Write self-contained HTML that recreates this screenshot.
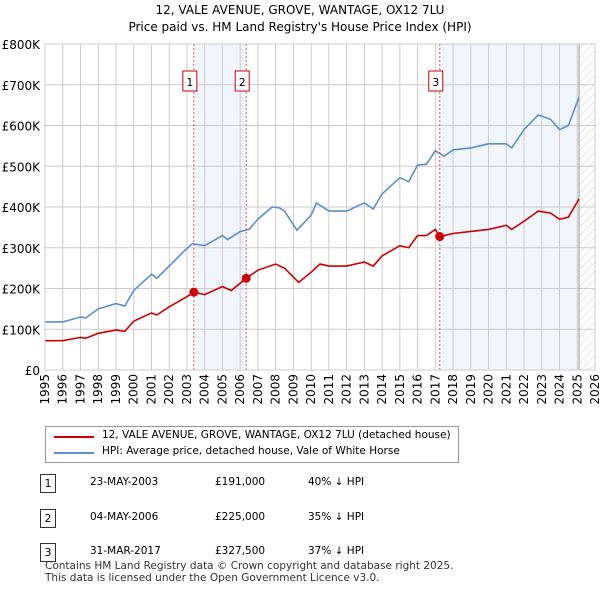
<!DOCTYPE html>
<html><head><meta charset="utf-8"><style>
body{margin:0;background:#fff;font-family:"DejaVu Sans","Liberation Sans",sans-serif;}
.t{position:absolute;font-size:12px;color:#000}
svg text{font-family:"DejaVu Sans","Liberation Sans",sans-serif;}
</style></head><body>
<div style="position:relative;width:600px;height:590px;overflow:hidden">
<div class="t" style="left:0;width:600px;top:2px;text-align:center;font-size:12px;line-height:17px">12, VALE AVENUE, GROVE, WANTAGE, OX12 7LU<br>Price paid vs. HM Land Registry's House Price Index (HPI)</div>
<svg id="chart" width="600" height="420" style="position:absolute;left:0;top:0">
<defs><pattern id="hatch" width="6" height="6" patternUnits="userSpaceOnUse" patternTransform="rotate(45)"><line x1="0" y1="0" x2="0" y2="6" stroke="#ccc" stroke-width="1"/></pattern></defs>
<g id="g"></g>
</svg>
<div style="position:absolute;left:45px;top:426px;width:412px;height:35px;border:1px solid #999">
<div style="position:absolute;left:8px;top:9px;width:40px;height:2px;background:#cc0000"></div>
<div class="t" style="left:56px;top:2px;font-size:10.5px">12, VALE AVENUE, GROVE, WANTAGE, OX12 7LU (detached house)</div>
<div style="position:absolute;left:8px;top:25px;width:40px;height:2px;background:#5b8fd0"></div>
<div class="t" style="left:56px;top:18px;font-size:10.5px">HPI: Average price, detached house, Vale of White Horse</div>
</div>
<div id="tbl"></div>
<div class="t" style="left:45px;top:560px;font-size:10.5px;line-height:12px;color:#333">Contains HM Land Registry data © Crown copyright and database right 2025.<br>This data is licensed under the Open Government Licence v3.0.</div>
</div>
<script>
const hpiYears=[1995,1996,1997,1997.3,1998,1999,1999.5,2000,2001,2001.3,2002,2002.8,2003.3,2004,2005,2005.3,2006,2006.5,2007,2007.8,2008.2,2008.5,2009.2,2010,2010.3,2011,2012,2013,2013.5,2014,2015,2015.5,2016,2016.5,2017,2017.5,2018,2019,2020,2021,2021.3,2022,2022.8,2023.5,2024,2024.5,2025.1];
const hpiValues=[118,118,130,128,150,163,157,195,235,225,255,290,310,305,330,320,340,345,370,400,398,390,343,380,410,390,390,410,395,432,472,462,503,505,538,525,540,545,555,555,545,590,626,615,590,600,670];
const ppYears=[1995,1996,1997,1997.3,1998,1999,1999.5,2000,2001,2001.3,2002,2003,2003.39,2004,2005,2005.5,2006.34,2007,2008,2008.5,2009.3,2010,2010.5,2011,2012,2013,2013.5,2014,2015,2015.5,2016,2016.5,2017,2017.25,2018,2019,2020,2021,2021.3,2022,2022.8,2023.5,2024,2024.5,2025.1];
const ppValues=[72,72,80,78,90,98,95,120,140,135,155,180,191,185,205,195,225,245,260,250,215,240,260,255,255,265,255,280,305,300,330,330,345,327.5,335,340,345,355,345,365,390,385,370,375,420];
const saleYears=[2003.39,2006.34,2017.25];
const saleValues=[191,225,327.5];
const saleLabels=["1","2","3"];
const saleDates=["23-MAY-2003","04-MAY-2006","31-MAR-2017"];
const salePrices=["£191,000","£225,000","£327,500"];
const saleHpi=["40% ↓ HPI","35% ↓ HPI","37% ↓ HPI"];
const yTicks=[0,100,200,300,400,500,600,700,800];
const xTicks=[1995,1996,1997,1998,1999,2000,2001,2002,2003,2004,2005,2006,2007,2008,2009,2010,2011,2012,2013,2014,2015,2016,2017,2018,2019,2020,2021,2022,2023,2024,2025,2026];

const X=y=>45+(y-1995)*550/31, Y=v=>370-v*326/800;
const g=document.getElementById('g'), NS='http://www.w3.org/2000/svg';
function mk(t,a){const e=document.createElementNS(NS,t);for(const k in a)e.setAttribute(k,a[k]);g.appendChild(e);return e;}
let e;
e=mk('rect',{x:X(saleYears[0]),y:44,width:X(saleYears[1])-X(saleYears[0]),height:326,fill:'#eef3fc',opacity:0.8});


e=mk('rect',{x:X(saleYears[2]),y:44,width:X(2025.1)-X(saleYears[2]),height:326,fill:'#eef3fc',opacity:0.8});


e=mk('rect',{x:X(2025.1),y:44,width:X(2026)-X(2025.1),height:326,fill:'url(#hatch)'});


yTicks.forEach(v=>{mk('line',{x1:45,x2:595,y1:Y(v),y2:Y(v),stroke:'#ccc'});
 e=mk('text',{x:40,y:Y(v)+5,'text-anchor':'end','font-size':12});e.textContent=v==0?'£0':'£'+v+'K';
 
 });
xTicks.forEach(y=>{mk('line',{x1:X(y),x2:X(y),y1:44,y2:370,stroke:'#ccc'});
 e=mk('text',{x:X(y)+4,y:374,'text-anchor':'end','font-size':12,transform:`rotate(-90 ${X(y)+4} 374)`});e.textContent=y;
 
 });
mk('line',{x1:X(2025.1),x2:X(2025.1),y1:44,y2:370,stroke:'#999'});
e=mk('polyline',{points:hpiYears.map((y,i)=>X(y)+','+Y(hpiValues[i])).join(' '),fill:'none',stroke:'#5b8fd0','stroke-width':1.6});


e=mk('polyline',{points:ppYears.map((y,i)=>X(y)+','+Y(ppValues[i])).join(' '),fill:'none',stroke:'#cc0000','stroke-width':1.6});


saleYears.forEach((y,i)=>{mk('line',{x1:X(y),x2:X(y),y1:44,y2:370,stroke:'#e55','stroke-dasharray':'2,2'});
 e=mk('rect',{x:X(y)-11,y:71,width:14,height:20,fill:'#fff',stroke:'#cc0000'});
 
 
 e=mk('text',{x:X(y)-4,y:86,'text-anchor':'middle','font-size':11});e.textContent=saleLabels[i];
 e=mk('circle',{cx:X(y),cy:Y(saleValues[i]),r:4.5,fill:'#cc0000'});
 
 });
mk('rect',{x:45,y:44,width:550,height:326,fill:'none',stroke:'#ccc'});
const tbl=document.getElementById('tbl');
saleLabels.forEach((l,i)=>{const top=474+i*34.5;
 tbl.insertAdjacentHTML('beforeend',`<div><div class="t" style="left:40px;top:${top}px;width:14px;height:17px;border:1px solid #333;text-align:center;font-size:11px;line-height:17px">${l}</div><div class="t" style="left:90px;top:${top+2}px;font-size:10.5px">${saleDates[i]}</div><div class="t" style="left:215px;top:${top+2}px;font-size:10.5px">${salePrices[i]}</div><div class="t" style="left:308px;top:${top+2}px;font-size:10.5px">${saleHpi[i]}</div></div>`);});
</script>
</body></html>
